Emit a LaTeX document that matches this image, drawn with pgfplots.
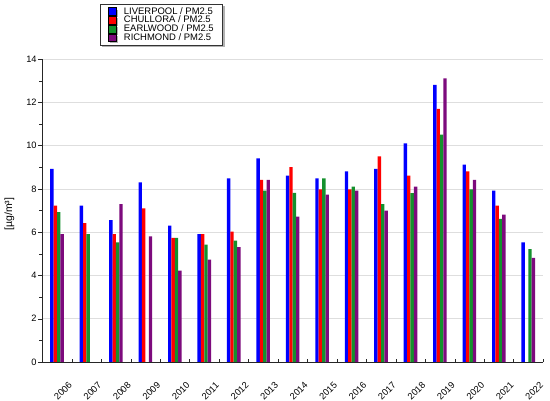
\documentclass[border=0pt]{standalone}
\usepackage{fontspec}
\setmainfont{Liberation Sans}
\usepackage{pgfplots}
\pgfplotsset{compat=1.18}
\usepackage{pgfplotstable}
\usetikzlibrary{shadows}

\definecolor{cLiv}{RGB}{0,0,255}
\definecolor{cChu}{RGB}{255,0,0}
\definecolor{cEar}{RGB}{20,145,45}
\definecolor{cRic}{RGB}{125,10,125}

% annual means, one row per year (nan = no data)
\pgfplotstableread{
x  L     C     E     R
0  8.92  7.22  6.92  5.91
1  7.22  6.42  5.91  nan
2  6.55  5.91  5.53  7.30
3  8.30  7.10  nan   5.81
4  6.30  5.73  5.73  4.22
5  5.91  5.91  5.42  4.73
6  8.49  6.02  5.61  5.31
7  9.41  8.41  7.92  8.41
8  8.61  9.00  7.81  6.72
9  8.49  7.98  8.49  7.73
10 8.81  7.98  8.10  7.92
11 8.92  9.50  7.30  6.99
12 10.10 8.61  7.80  8.10
13 12.80 11.70 10.50 13.10
14 9.12  8.81  7.98  8.41
15 7.92  7.22  6.61  6.81
16 5.53  nan   5.22  4.81
}\pmdata

\begin{document}
\begin{tikzpicture}
\useasboundingbox (0,0) rectangle (550bp,401bp);
\begin{axis}[
  at={(42.3bp,39bp)}, anchor=south west,
  scale only axis, width=500.7bp, height=303bp,
  xmin=-0.5, xmax=16.5, ymin=0, ymax=14,
  axis lines*=left,
  axis line style={black!85, line width=0.6bp},
  ybar=0pt, bar width=3.4bp,
  xtick={0,...,16},
  xticklabels={2006,2007,2008,2009,2010,2011,2012,2013,2014,2015,2016,2017,2018,2019,2020,2021,2022},
  minor xtick={-0.5,0.5,...,16.5},
  major x tick style={draw=none},
  minor x tick style={yshift=3bp, black!85},
  ytick={0,2,...,14},
  minor ytick={1,3,...,13},
  tick align=outside,
  major tick length=4bp, minor tick length=3bp,
  y tick style={black!85},
  ymajorgrids, major grid style={black!13, line width=0.6bp},
  tick label style={font=\fontsize{9.3}{9.3}\selectfont},
  /pgf/number format/assume math mode=true,
  yticklabel style={inner sep=1.5bp},
  xticklabel style={anchor=center, xshift=6bp, yshift=-25bp, rotate=45},
  ylabel={[µg/m³]},
  ylabel style={at={(axis description cs:-0.0655,0.488)}, anchor=center, font=\fontsize{10.5}{10.5}\selectfont},
  legend style={at={(axis description cs:0.1152,1.1815)}, anchor=north west,
    draw=black!80, fill=white, line width=0.5bp,
    drop shadow={shadow xshift=2bp, shadow yshift=-2bp, fill=black!30, opacity=1},
    font=\fontsize{9.5}{9}\selectfont, inner xsep=7.5bp, inner ysep=1.5bp, row sep=-2.6bp,
    nodes={inner sep=1.5bp}},
  legend cell align=left,
  legend image code/.code={\draw[#1, draw=black, line width=0.4bp] (0bp,-3.8bp) rectangle (8.5bp,3.8bp); \path (14.5bp,0bp);},
]
\addplot[draw=none, fill=cLiv] table[x=x, y=L] {\pmdata};
\addplot[draw=none, fill=cChu] table[x=x, y=C] {\pmdata};
\addplot[draw=none, fill=cEar] table[x=x, y=E] {\pmdata};
\addplot[draw=none, fill=cRic] table[x=x, y=R] {\pmdata};
\legend{LIVERPOOL / PM2.5, CHULLORA / PM2.5, EARLWOOD / PM2.5, RICHMOND / PM2.5}
\end{axis}
\end{tikzpicture}
\end{document}
